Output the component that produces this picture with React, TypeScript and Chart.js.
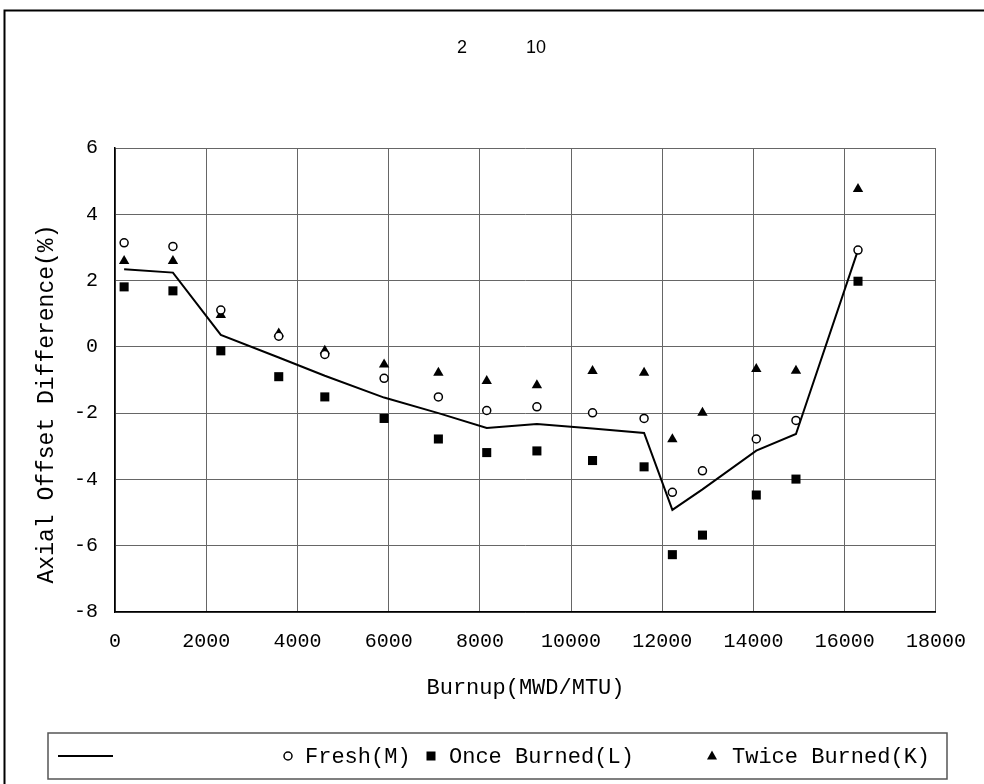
import React, { useEffect, useRef } from "react";
import { Chart, registerables } from "chart.js";

Chart.register(...registerables);

// ---- data ----
const BURNUP = [200, 1270, 2320, 3590, 4600, 5900, 7090, 8150, 9250, 10470, 11600, 12220, 12880, 14060, 14930, 16290];
const CALCULATED = [2.34, 2.24, 0.36, -0.32, -0.87, -1.53, -2.0, -2.45, -2.33, -2.46, -2.6, -4.92, -4.3, -3.13, -2.63, 2.92];
const FRESH = [3.14, 3.03, 1.11, 0.32, -0.23, -0.95, -1.51, -1.92, -1.81, -1.99, -2.16, -4.39, -3.74, -2.78, -2.22, 2.92];
const ONCE_BURNED = [1.81, 1.69, -0.12, -0.9, -1.51, -2.16, -2.78, -3.19, -3.14, -3.43, -3.62, -6.27, -5.68, -4.47, -3.99, 1.98];
const TWICE_BURNED = [2.59, 2.59, 0.96, 0.4, -0.12, -0.53, -0.78, -1.03, -1.16, -0.73, -0.78, -2.79, -1.99, -0.67, -0.72, 4.76];

const X_TICKS = [0, 2000, 4000, 6000, 8000, 10000, 12000, 14000, 16000, 18000];
const Y_TICKS = [-8, -6, -4, -2, 0, 2, 4, 6];

const TITLE_PARTS = ["2", "10"];
const LEGEND_LABELS = ["", "Fresh(M)", "Once Burned(L)", "Twice Burned(K)"];
const X_TITLE = "Burnup(MWD/MTU)";
const Y_TITLE = "Axial Offset Difference(%)";

const MONO = '"Liberation Mono", "Courier New", "DejaVu Sans Mono", monospace';
const SANS = '"Liberation Sans Narrow", "Liberation Sans", Arial, sans-serif';

const toPoints = (ys: number[]) => BURNUP.map((x, i) => ({ x, y: ys[i] }));

const decoPlugin = {
  id: "deco",
  afterDraw(chart: any) {
    const ctx: CanvasRenderingContext2D = chart.ctx;
    ctx.save();
    // outer frame (runs off the right and bottom edges)
    ctx.strokeStyle = "#000";
    ctx.lineWidth = 2;
    ctx.beginPath();
    ctx.moveTo(4.5, 790);
    ctx.lineTo(4.5, 10.5);
    ctx.lineTo(990, 10.5);
    ctx.stroke();

    // title
    ctx.fillStyle = "#000";
    ctx.font = "18px " + SANS;
    ctx.textBaseline = "middle";
    ctx.textAlign = "center";
    ctx.fillText(TITLE_PARTS[0], 462, 48);
    ctx.fillText(TITLE_PARTS[1], 536, 48);

    // y-axis title
    ctx.save();
    ctx.translate(47, 404);
    ctx.rotate(-Math.PI / 2);
    ctx.font = "23px " + MONO;
    ctx.textAlign = "center";
    ctx.textBaseline = "middle";
    ctx.fillText(Y_TITLE, 0, 0);
    ctx.restore();

    // legend box
    ctx.strokeStyle = "#555";
    ctx.lineWidth = 1.5;
    ctx.strokeRect(48, 733, 899, 46);
    const ly = 756;
    // line sample
    ctx.strokeStyle = "#000";
    ctx.lineWidth = 2;
    ctx.beginPath();
    ctx.moveTo(58, ly);
    ctx.lineTo(113, ly);
    ctx.stroke();
    ctx.font = "22px " + MONO;
    ctx.textAlign = "left";
    ctx.textBaseline = "middle";
    // circle
    ctx.lineWidth = 1.5;
    ctx.beginPath();
    ctx.arc(288, ly, 4, 0, Math.PI * 2);
    ctx.fillStyle = "#fff";
    ctx.fill();
    ctx.stroke();
    ctx.fillStyle = "#000";
    ctx.fillText(LEGEND_LABELS[1], 305, ly + 1);
    // square
    ctx.fillRect(431 - 4.5, ly - 4.5, 9, 9);
    ctx.fillText(LEGEND_LABELS[2], 449, ly + 1);
    // triangle
    ctx.beginPath();
    ctx.moveTo(712, ly - 5.5);
    ctx.lineTo(712 + 5, ly + 3.5);
    ctx.lineTo(712 - 5, ly + 3.5);
    ctx.closePath();
    ctx.fill();
    ctx.fillText(LEGEND_LABELS[3], 732, ly + 1);
    ctx.restore();
  },
};

export default function App() {
  const ref = useRef<HTMLCanvasElement | null>(null);
  useEffect(() => {
    document.body.style.margin = "0";
    const canvas = ref.current;
    if (!canvas) return;
    const chart = new Chart(canvas, {
      type: "scatter",
      data: {
        datasets: [
          {
            label: LEGEND_LABELS[0],
            data: toPoints(CALCULATED),
            showLine: true,
            borderColor: "#000",
            borderWidth: 2,
            pointRadius: 0,
            tension: 0,
            order: 4,
          },
          {
            label: LEGEND_LABELS[1],
            data: toPoints(FRESH),
            pointStyle: "circle",
            pointRadius: 4,
            borderWidth: 1.5,
            borderColor: "#000",
            backgroundColor: "#fff",
            order: 1,
          },
          {
            label: LEGEND_LABELS[2],
            data: toPoints(ONCE_BURNED),
            pointStyle: "rect",
            pointRadius: 6.4,
            borderWidth: 0,
            borderColor: "#000",
            backgroundColor: "#000",
            order: 2,
          },
          {
            label: LEGEND_LABELS[3],
            data: toPoints(TWICE_BURNED),
            pointStyle: "triangle",
            pointRadius: 6,
            borderWidth: 0,
            borderColor: "#000",
            backgroundColor: "#000",
            order: 3,
          },
        ],
      },
      options: {
        responsive: false,
        animation: false,
        layout: { padding: { left: 0, top: 148, right: 47, bottom: 72 } },
        plugins: {
          legend: { display: false },
          title: { display: false },
          tooltip: { enabled: false },
        },
        scales: {
          x: {
            type: "linear",
            min: 0,
            max: 18000,
            afterBuildTicks: (s: any) => {
              s.ticks = X_TICKS.map((v) => ({ value: v }));
            },
            afterFit: (s: any) => {
              s.height = 100;
            },
            ticks: {
              autoSkip: false,
              maxRotation: 0,
              padding: 18,
              color: "#000",
              font: { family: MONO, size: 20 },
              callback: (v: any) => String(v),
            },
            grid: { color: "#666", lineWidth: 1, drawTicks: false },
            border: { color: "#000", width: 1.5 },
            title: {
              display: true,
              text: X_TITLE,
              color: "#000",
              font: { family: MONO, size: 22 },
              padding: { top: 0, bottom: 11 },
            },
          },
          y: {
            type: "linear",
            min: -8,
            max: 6,
            afterBuildTicks: (s: any) => {
              s.ticks = Y_TICKS.map((v) => ({ value: v }));
            },
            afterFit: (s: any) => {
              s.width = 115;
            },
            ticks: {
              padding: 17,
              color: "#000",
              font: { family: MONO, size: 20 },
              callback: (v: any) => String(v),
            },
            grid: { color: "#666", lineWidth: 1, drawTicks: false },
            border: { color: "#000", width: 1.5 },
            title: { display: false, text: Y_TITLE },
          },
        },
      },
      plugins: [decoPlugin],
    });
    return () => chart.destroy();
  }, []);

  return (
    <div style={{ width: 984, height: 784, background: "#fff" }}>
      <canvas ref={ref} width={984} height={784} style={{ display: "block" }} />
    </div>
  );
}
